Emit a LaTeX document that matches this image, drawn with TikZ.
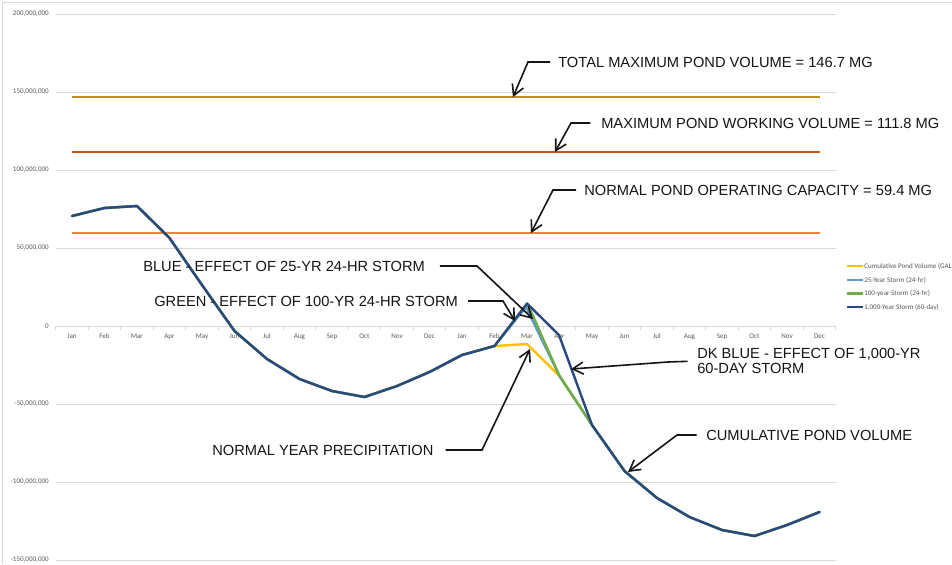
\documentclass[tikz,border=0pt]{standalone}
\usepackage{fontspec}
\setmainfont{Liberation Sans}
\newfontfamily\calibri{Carlito}
\usetikzlibrary{arrows.meta}
\definecolor{gridc}{HTML}{D9D9D9}
\definecolor{labc}{HTML}{595959}
\definecolor{goldc}{HTML}{BF9000}
\definecolor{brownc}{HTML}{C55A11}
\definecolor{orangec}{HTML}{F4803A}
\definecolor{yelc}{HTML}{FFC000}
\definecolor{ltbc}{HTML}{5B9BD5}
\definecolor{grnc}{HTML}{70AD47}
\definecolor{dkbc}{HTML}{284A7E}
\definecolor{annc}{HTML}{151515}
\begin{document}
\begin{tikzpicture}[x=0.75pt,y=-0.75pt,
  gridline/.style={draw=gridc,line width=0.7pt},
  axlab/.style={font=\calibri\fontsize{5.3}{6}\selectfont, text=labc, inner sep=0},
  series/.style={line width=1.8pt, line join=round, line cap=round},
  refline/.style={line width=1.6pt},
  ann/.style={font=\fontsize{11}{11.6}\selectfont, text=annc, inner sep=0, anchor=west},
  annarrow/.style={draw=annc, line width=1.2pt, -{Straight Barb[length=8pt,width=9pt]}}]
\useasboundingbox (0,0) rectangle (952,564);
\fill[white] (0,0) rectangle (952,564);
% chart border
\draw[gridc, line width=0.7pt] (2,564) -- (2,2) -- (952,2);
% gridlines
\foreach \v/\t in {200/{200,000,000},150/{150,000,000},100/{100,000,000},50/{50,000,000},-50/{-50,000,000},-100/{-100,000,000},-150/{-150,000,000}}{
  \draw[gridline] (55.5,326-1.56*\v) -- (835.5,326-1.56*\v);
  \node[axlab, anchor=east] (yl\v) at (49,326-1.56*\v) {\t};
}
\node[axlab, anchor=east] (yl0) at (49,326) {0};
% zero axis and ticks
\draw[gridline] (55.5,326) -- (835.5,326);
\foreach \k in {0,...,24}{
  \draw[gridline] (55.5+32.5*\k,326) -- (55.5+32.5*\k,330);
}
\foreach \m [count=\i from 0] in {Jan,Feb,Mar,Apr,May,Jun,Jul,Aug,Sep,Oct,Nov,Dec,Jan,Feb,Mar,Apr,May,Jun,Jul,Aug,Sep,Oct,Nov,Dec}{
  \node[axlab] (xl\i) at (72+32.5*\i,336.5) {\m};
}
% reference lines
\draw[refline, goldc] (72,97) -- (819.5,97);
\draw[refline, brownc] (72,151.6) -- (819.5,151.6);
\draw[refline, orangec] (72,233.3) -- (819.5,233.3);
% series
\draw[series, yelc] plot coordinates {(72,216) (104.5,208) (137,206) (169.5,238) (202,285) (234.5,331) (267,359) (299.5,379) (332,391) (364.5,397) (397,386) (429.5,372) (462,355) (494.5,346) (527,344) (559.5,376) (592,425) (624.5,471) (657,498) (689.5,517) (722,530) (754.5,536) (787,525) (819.5,512)};
\draw[series, ltbc] plot coordinates {(72,216) (104.5,208) (137,206) (169.5,238) (202,285) (234.5,331) (267,359) (299.5,379) (332,391) (364.5,397) (397,386) (429.5,372) (462,355) (494.5,346) (526,307) (559.5,376) (592,425) (624.5,471) (657,498) (689.5,517) (722,530) (754.5,536) (787,525) (819.5,512)};
\draw[series, grnc] plot coordinates {(72,216) (104.5,208) (137,206) (169.5,238) (202,285) (234.5,331) (267,359) (299.5,379) (332,391) (364.5,397) (397,386) (429.5,372) (462,355) (494.5,346) (527.5,303.5) (559.5,376) (592,425) (624.5,471) (657,498) (689.5,517) (722,530) (754.5,536) (787,525) (819.5,512)};
\draw[series, dkbc] plot coordinates {(72,216) (104.5,208) (137,206) (169.5,238) (202,285) (234.5,331) (267,359) (299.5,379) (332,391) (364.5,397) (397,386) (429.5,372) (462,355) (494.5,346) (527,303.5) (559,335) (592,425) (624.5,471) (657,498) (689.5,517) (722,530) (754.5,536) (787,525) (819.5,512)};
% legend
\draw[series, yelc, line cap=butt] (847,266) -- (863,266);
\node[axlab, anchor=west] (lg1) at (864,266) {Cumulative Pond Volume (GAL};
\draw[series, ltbc, line cap=butt] (847,280) -- (863,280);
\node[axlab, anchor=west] (lg2) at (864,280) {25-Year Storm (24-hr)};
\draw[series, grnc, line cap=butt] (847,293.5) -- (863,293.5);
\node[axlab, anchor=west] (lg3) at (864,293.5) {100-year Storm (24-hr)};
\draw[series, dkbc, line cap=butt] (847,307) -- (863,307);
\node[axlab, anchor=west] (lg4) at (864,307) {1,000-Year Storm (60-day)};
% annotations
\node[ann] (tTotal) at (558,62) {TOTAL MAXIMUM POND VOLUME = 146.7 MG};
\coordinate (eTotal) at (528,62);
\coordinate (pTotal) at (513,97);
\draw[annarrow, shorten <=6pt] (tTotal.west) -- (eTotal) -- (pTotal);

\node[ann] (tWork) at (601,123) {MAXIMUM POND WORKING VOLUME = 111.8 MG};
\coordinate (eWork) at (571,123);
\coordinate (pWork) at (555,152);
\draw[annarrow, shorten <=8pt] (tWork.west) -- (eWork) -- (pWork);

\node[ann] (tNorm) at (584,190) {NORMAL POND OPERATING CAPACITY = 59.4 MG};
\coordinate (eNorm) at (553,190);
\coordinate (pNorm) at (531,233);
\draw[annarrow, shorten <=6pt] (tNorm.west) -- (eNorm) -- (pNorm);

\node[ann] (tBlue) at (143,266) {BLUE - EFFECT OF 25-YR 24-HR STORM};
\coordinate (eBlue) at (477,266);
\coordinate (pBlue) at (533,319);
\draw[annarrow, shorten <=11pt] (tBlue.east) -- (eBlue) -- (pBlue);

\node[ann] (tGreen) at (154,301) {GREEN - EFFECT OF 100-YR 24-HR STORM};
\coordinate (eGreen) at (503,301);
\coordinate (pGreen) at (515,321);
\draw[annarrow, shorten <=7.5pt] (tGreen.east) -- (eGreen) -- (pGreen);

\node[ann, align=left] (tDk) at (697,361) {DK BLUE - EFFECT OF 1,000-YR\\60-DAY STORM};
\coordinate (eDk) at (668,362);
\coordinate (pDk) at (571,369);
\draw[annarrow, shorten <=7pt] (tDk.west) -- (eDk) -- (pDk);

\node[ann] (tPrec) at (212,450) {NORMAL YEAR PRECIPITATION};
\coordinate (ePrec) at (482,450);
\coordinate (pPrec) at (530,349);
\draw[annarrow, shorten <=9pt] (tPrec.east) -- (ePrec) -- (pPrec);

\node[ann] (tCum) at (706,435) {CUMULATIVE POND VOLUME};
\coordinate (eCum) at (677,435);
\coordinate (pCum) at (628,472);
\draw[annarrow, shorten <=7pt] (tCum.west) -- (eCum) -- (pCum);
\end{tikzpicture}
\end{document}
